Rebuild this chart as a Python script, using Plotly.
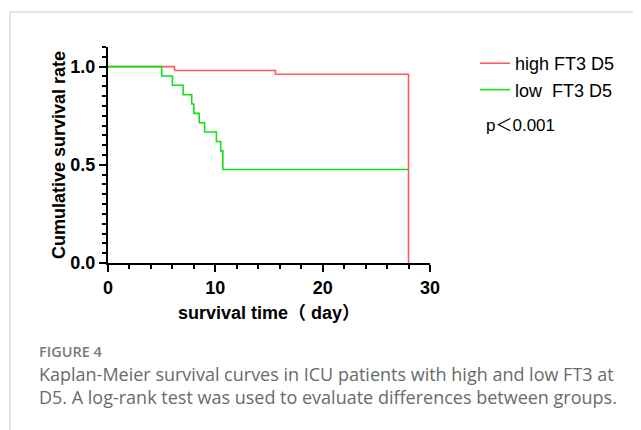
import plotly.graph_objects as go

# ---- data ----
high_time = [0, 6.2, 15.6, 28, 28]
high_surv = [1.0, 0.980, 0.961, 0.961, 0.0]

low_time = [0, 5, 6, 7, 7.8, 8, 8.5, 9, 10.1, 10.5, 10.7, 28]
low_surv = [1.0, 0.952, 0.905, 0.857, 0.810, 0.762, 0.714, 0.667, 0.619, 0.571, 0.476, 0.476]

series_names = ["high FT3 D5", "low\u00a0 FT3 D5"]
x_ticks = [0, 10, 20, 30]
y_ticks = [0.0, 0.5, 1.0]

# figure geometry (page is shown with an 8px body margin)
W, H = 641, 430
L, T, PW, PH = 100, 39, 322, 216
R = W - L - PW
B = H - T - PH


def px_x(px):
    return (px - L) / PW


def px_y(py):
    return (T + PH - py) / PH


AX_FONT = "Liberation Sans, Arial, Noto Sans CJK SC, sans-serif"
CAP_FONT = "Open Sans, Lato, sans-serif"

fig = go.Figure()
fig.add_trace(go.Scatter(x=high_time, y=high_surv, mode="lines", line_shape="hv",
                         line=dict(color="#FF5C5C", width=1.6), name=series_names[0],
                         legendgroup="a"))
fig.add_trace(go.Scatter(x=low_time, y=low_surv, mode="lines", line_shape="hv",
                         line=dict(color="#14E014", width=1.6), name=series_names[1],
                         legendgroup="b"))

axis_common = dict(showline=True, linecolor="black", linewidth=2, ticks="outside",
                   tickcolor="black", tickwidth=2, showgrid=False, zeroline=False,
                   tickfont=dict(family=AX_FONT, size=18, color="black", weight="bold"))

fig.update_xaxes(range=[0, 30], tickvals=x_ticks, ticklen=7,
                 minor=dict(dtick=2, ticks="outside", ticklen=4, tickwidth=1.5, tickcolor="black"),
                 title=dict(text="survival time\uff08 day\uff09", standoff=10,
                            font=dict(family=AX_FONT, size=18, color="black", weight="bold")),
                 **axis_common)
fig.update_yaxes(range=[0, 1.1], tickvals=y_ticks, tickformat=".1f", ticklen=7,
                 minor=dict(dtick=0.05, ticks="outside", ticklen=4, tickwidth=1.5, tickcolor="black"),
                 title=dict(text="Cumulative survival rate", standoff=0,
                            font=dict(family=AX_FONT, size=18, color="black", weight="bold")),
                 **axis_common)

annotations = [
    dict(text="p\uff1c0.001", x=px_x(476), y=px_y(118), xref="paper", yref="paper",
         xanchor="left", yanchor="middle", showarrow=False,
         font=dict(family=AX_FONT, size=17, color="black")),
    dict(text="FIGURE 4", x=px_x(29), y=px_y(343), xref="paper", yref="paper",
         xanchor="left", yanchor="middle", showarrow=False,
         font=dict(family=CAP_FONT, size=14.5, color="#7a7a7a", weight=600)),
    dict(text="Kaplan-Meier survival curves in ICU patients with high and low FT3 at",
         x=px_x(29), y=px_y(366), xref="paper", yref="paper",
         xanchor="left", yanchor="middle", showarrow=False,
         font=dict(family=CAP_FONT, size=18, color="#6a6a6a")),
    dict(text="D5. A log-rank test was used to evaluate differences between groups.",
         x=px_x(29), y=px_y(389), xref="paper", yref="paper",
         xanchor="left", yanchor="middle", showarrow=False,
         font=dict(family=CAP_FONT, size=18, color="#6a6a6a")),
]

shapes = [
    dict(type="line", xref="paper", yref="paper", x0=px_x(2), x1=px_x(645),
         y0=px_y(4), y1=px_y(4), line=dict(color="#cccccc", width=1)),
    dict(type="line", xref="paper", yref="paper", x0=px_x(2), x1=px_x(2),
         y0=px_y(4), y1=px_y(440), line=dict(color="#cccccc", width=1)),
]

fig.update_layout(
    width=W, height=H, margin=dict(l=L, r=R, t=T, b=B, autoexpand=False),
    plot_bgcolor="white", paper_bgcolor="white",
    showlegend=True,
    legend=dict(x=px_x(467), y=px_y(37), xanchor="left", yanchor="top",
                font=dict(family=AX_FONT, size=18, color="black"),
                itemwidth=30, tracegroupgap=0, bgcolor="rgba(0,0,0,0)"),
    annotations=annotations, shapes=shapes,
)

fig.write_html("out.html")
